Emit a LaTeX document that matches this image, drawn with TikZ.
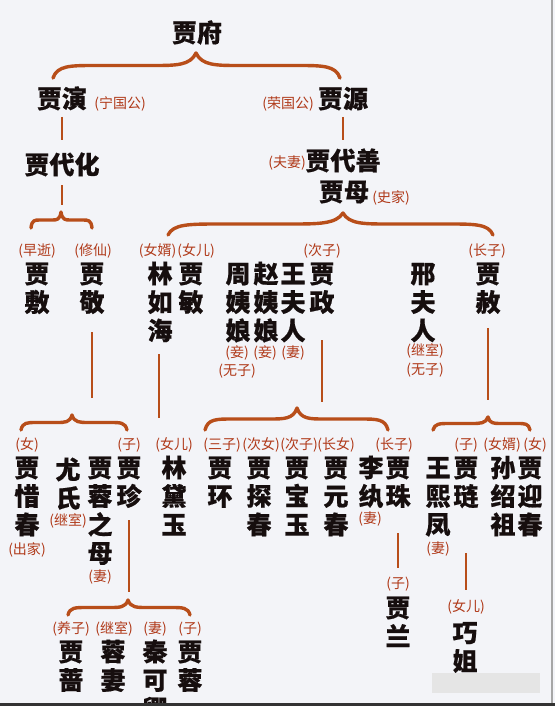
\documentclass[tikz,border=0pt]{standalone}
\usepackage{fontspec}
\newfontfamily\cjk[BoldFeatures={FakeBold=0.6}]{Noto Sans CJK SC}
\definecolor{bgc}{RGB}{243,244,248}
\definecolor{namec}{RGB}{22,14,14}
\definecolor{labc}{RGB}{176,58,26}
\definecolor{linec}{RGB}{184,78,26}
\newcommand\vc[1]{\vtop{\baselineskip=28.5pt\halign{\hfil##\hfil\cr#1\crcr}}}
\newcommand\fbrace[5]{%
 \pgfmathsetmacro\bya{(#4+#5)/2}%
 \pgfmathsetmacro\bla{#3-#1}%
 \pgfmathsetmacro\blb{#2-#3}%
 \draw[br] (#1,#5) .. controls ({#1+0.03*\bla},\bya) and ({#1+0.12*\bla},\bya) .. ({#1+0.3*\bla},\bya)
   -- ({#3-0.3*\bla},\bya) .. controls ({#3-0.14*\bla},\bya) and ({#3-0.04*\bla},\bya) .. (#3,#4)
   .. controls ({#3+0.04*\blb},\bya) and ({#3+0.14*\blb},\bya) .. ({#3+0.3*\blb},\bya)
   -- ({#2-0.3*\blb},\bya) .. controls ({#2-0.12*\blb},\bya) and ({#2-0.03*\blb},\bya) .. (#2,#5);%
}
\tikzset{
 nm/.style={font=\cjk\bfseries\fontsize{25}{28.5}\selectfont, text=namec, inner sep=0pt, anchor=base},
 lb/.style={font=\cjk\fontsize{14}{16}\selectfont, text=labc, inner sep=0pt, anchor=base},
 ln/.style={draw=linec, line width=2pt},
 br/.style={draw=linec, line width=3.4pt, line cap=round, line join=round},
}
\begin{document}
\begin{tikzpicture}[x=1pt,y=-1pt]
\useasboundingbox (0,0) rectangle (555,706);
\clip (0,0) rectangle (555,706);
\fill[bgc] (0,0) rectangle (555,706);

% row 1-2
\node[nm] (fu) at (197,42) {贾府};
\node[nm] (yan) at (62,108) {贾演};
\node[lb] (l1) at (120,109) {(宁国公)};
\node[lb] (l2) at (288,109) {(荣国公)};
\node[nm] (yuan) at (343,108) {贾源};
\node[nm] (daihua) at (62,174) {贾代化};
\node[lb] (l3) at (287,167) {(夫妻)};
\node[nm] (daishan) at (343,170) {贾代善};
\node[nm] (jiamu) at (344,201) {贾母};
\node[lb] (l4) at (391,202) {(史家)};

% row 3
\node[lb] (l5) at (37,255) {(早逝)};
\node[lb] (l6) at (93,255) {(修仙)};
\node[lb] (l7) at (157.5,255) {(女婿)};
\node[lb] (l8) at (196,255) {(女儿)};
\node[lb] (l9) at (322,255) {(次子)};
\node[lb] (l10) at (487,255) {(长子)};
\node[nm] (fu1) at (37,283) {\vc{贾\cr 敷}};
\node[nm] (jing) at (92,283) {\vc{贾\cr 敬}};
\node[nm] (lin) at (160,283) {\vc{林\cr 如\cr 海}};
\node[nm] (min) at (191,283) {\vc{贾\cr 敏}};
\node[nm] (zhou) at (238,283) {\vc{周\cr 姨\cr 娘}};
\node[nm] (zhao) at (266,283) {\vc{赵\cr 姨\cr 娘}};
\node[nm] (wang) at (293,283) {\vc{王\cr 夫\cr 人}};
\node[nm] (zheng) at (322,283) {\vc{贾\cr 政}};
\node[nm] (xing) at (423,283) {\vc{邢\cr 夫\cr 人}};
\node[nm] (she) at (488,283) {\vc{贾\cr 赦}};
\node[lb] (l11) at (237,357) {(妾)};
\node[lb] (l12) at (265,357) {(妾)};
\node[lb] (l13) at (293,357) {(妻)};
\node[lb] (l14) at (237,375) {(无子)};
\node[lb] (l15) at (425,355) {(继室)};
\node[lb] (l16) at (425,374) {(无子)};

% row 4
\node[lb] (l17) at (27,449) {(女)};
\node[lb] (l18) at (129,449) {(子)};
\node[lb] (l19) at (174,449) {(女儿)};
\node[lb] (l20) at (222,449) {(三子)};
\node[lb] (l21) at (261,449) {(次女)};
\node[lb] (l22) at (299,449) {(次子)};
\node[lb] (l23) at (336,449) {(长女)};
\node[lb] (l24) at (394,449) {(长子)};
\node[lb] (l25) at (466,449) {(子)};
\node[lb] (l26) at (502,449) {(女婿)};
\node[lb] (l27) at (535,449) {(女)};
\node[nm] (xichun) at (27,477) {\vc{贾\cr 惜\cr 春}};
\node[nm] (youshi) at (68,479) {\vc{尤\cr 氏}};
\node[nm] (rongmu) at (100,477) {\vc{贾\cr 蓉\cr 之\cr 母}};
\node[nm] (zhen) at (129,477) {\vc{贾\cr 珍}};
\node[nm] (daiyu) at (174,477) {\vc{林\cr 黛\cr 玉}};
\node[nm] (huan) at (220,477) {\vc{贾\cr 环}};
\node[nm] (tanchun) at (259,477) {\vc{贾\cr 探\cr 春}};
\node[nm] (baoyu) at (297,477) {\vc{贾\cr 宝\cr 玉}};
\node[nm] (yuanchun) at (336,477) {\vc{贾\cr 元\cr 春}};
\node[nm] (liwan) at (371,477) {\vc{李\cr 纨}};
\node[nm] (zhu) at (398,477) {\vc{贾\cr 珠}};
\node[nm] (xifeng) at (438,477) {\vc{王\cr 熙\cr 凤}};
\node[nm] (lian) at (466,477) {\vc{贾\cr 琏}};
\node[nm] (shaozu) at (503,477) {\vc{孙\cr 绍\cr 祖}};
\node[nm] (yingchun) at (530,477) {\vc{贾\cr 迎\cr 春}};
\node[lb] (l28) at (27,554) {(出家)};
\node[lb] (l29) at (68,525) {(继室)};
\node[lb] (l30) at (100,581) {(妻)};
\node[lb] (l31) at (370,523) {(妻)};
\node[lb] (l32) at (438,553) {(妻)};

% row 5
\node[lb] (l33) at (398,588) {(子)};
\node[nm] (lan) at (398,617) {\vc{贾\cr 兰}};
\node[lb] (l34) at (466,611) {(女儿)};
\node[nm] (qiaojie) at (465,642) {\vc{巧\cr 姐}};

% row 6
\node[lb] (l35) at (71,633) {(养子)};
\node[lb] (l36) at (114,633) {(继室)};
\node[lb] (l37) at (155,633) {(妻)};
\node[lb] (l38) at (190,633) {(子)};
\node[nm] (qiang) at (71,661) {\vc{贾\cr 蔷}};
\node[nm] (rongqi) at (113,661) {\vc{蓉\cr 妻}};
\node[nm] (qin) at (155,661) {\vc{秦\cr 可\cr 卿}};
\node[nm] (rong) at (190,661) {\vc{贾\cr 蓉}};

% braces
\fbrace{53}{340}{196}{53}{78}
\fbrace{31}{92}{61}{212}{228}
\fbrace{168}{493}{343}{213}{235}
\fbrace{21}{127}{72}{415}{430}
\fbrace{205}{388}{297}{408}{430}
\fbrace{433}{530}{488}{417}{430}
\fbrace{68}{190}{128}{600}{615}

% connectors
\draw[ln] (yan |- 0,117) -- (daihua |- 0,140);
\draw[ln] (yuan |- 0,117) -- (daishan |- 0,140);
\draw[ln] (daihua |- 0,185) -- (daihua |- 0,205);
\draw[ln] (jing |- 0,332) -- (jing |- 0,398);
\draw[ln] (159,354) coordinate (lintop) -- (lintop |- 0,418);
\draw[ln] (zheng |- 0,340) -- (zheng |- 0,402);
\draw[ln] (she |- 0,328) -- (she |- 0,400);
\draw[ln] (zhen |- 0,520) -- (zhen |- 0,592);
\draw[ln] (zhu |- 0,533) -- (lan |- 0,568);
\draw[ln] (lian |- 0,553) -- (lian |- 0,590);

% frame remnants
\fill[gray!20] (432,673) rectangle (540,693);
\draw[gray!70, line width=1.5pt] (552,0) -- (552,706);
\fill[black!80] (0,703) rectangle (555,706);
\end{tikzpicture}
\end{document}
